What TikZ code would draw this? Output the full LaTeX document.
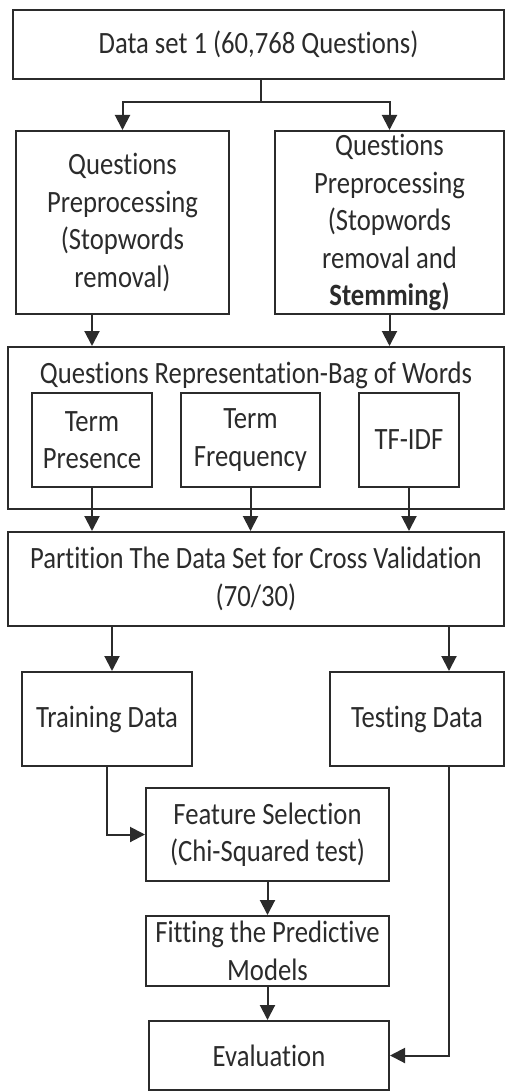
\documentclass[tikz,border=0pt]{standalone}
\usepackage{fontspec}
\setmainfont{Carlito}[FakeStretch=0.86, Ligatures={NoCommon}]
\usetikzlibrary{arrows.meta}
\definecolor{ink}{HTML}{2B2B2B}
\tikzset{
  box/.style={draw=ink, line width=2pt, text=ink, align=center, inner sep=0pt,
    font=\fontsize{31}{37.5}\selectfont},
  arr/.style={draw=ink, line width=2pt, -{Triangle[length=15pt,width=15pt]}},
  ln/.style={draw=ink, line width=2pt}
}
\begin{document}
\begin{tikzpicture}[x=1pt,y=-1pt]
\useasboundingbox (0,0) rectangle (506,1091);
\node[box, minimum width=491pt, minimum height=69pt] (top) at (258.5,44.5) {Data set 1 (60,768 Questions)};
\node[box, minimum width=213pt, minimum height=183pt] (lp) at (122.5,222.5) {Questions\\Preprocessing\\(Stopwords\\removal)};
\node[box, minimum width=229pt, minimum height=183pt] (rp) at (389.5,222.5) {Questions\\Preprocessing\\(Stopwords\\removal and\\\textbf{Stemming)}};
\node[box, minimum width=496pt, minimum height=162pt] (bow) at (256,428) {};
\node[text=ink, font=\fontsize{31}{37.5}\selectfont, inner sep=0pt] (bowt) at (256,375) {Questions Representation-Bag of Words};
\node[box, minimum width=120pt, minimum height=94pt] (tp) at (92,440) {Term\\Presence};
\node[box, minimum width=139pt, minimum height=94pt] (tf) at (250.5,440) {Term\\Frequency};
\node[box, minimum width=100pt, minimum height=94pt] (tfidf) at (409,440) {TF-IDF};
\node[box, minimum width=496pt, minimum height=94pt] (part) at (256,579) {Partition The Data Set for Cross Validation\\(70/30)};
\node[box, minimum width=170pt, minimum height=94pt] (train) at (107,719) {Training Data};
\node[box, minimum width=174pt, minimum height=94pt] (test) at (417,719) {Testing Data};
\node[box, minimum width=243pt, minimum height=93pt] (feat) at (267.5,834.5) {Feature Selection\\(Chi-Squared test)};
\node[box, minimum width=243pt, minimum height=70pt] (fit) at (267.5,951) {Fitting the Predictive\\Models};
\node[box, minimum width=240pt, minimum height=69pt] (eval) at (269,1055.5) {Evaluation};
\coordinate (split) at (261,102);
\draw[ln] (top.south -| split) -- (split);
\draw[arr] (split) -| (lp.north);
\draw[arr] (split) -| (rp.north);
\draw[arr] (lp.south -| tp.north) -- (bow.north -| tp.north);
\draw[arr] (rp.south) -- (bow.north -| rp.south);
\draw[arr] (tp.south) -- (part.north -| tp.south);
\draw[arr] (tf.south) -- (part.north -| tf.south);
\draw[arr] (tfidf.south) -- (part.north -| tfidf.south);
\draw[arr] ([xshift=5pt]train.north |- part.south) -- ([xshift=5pt]train.north);
\draw[arr] ([xshift=32pt]test.north |- part.south) -- ([xshift=32pt]test.north);
\draw[arr] (train.south) |- (feat.west);
\draw[arr] (feat.south) -- (fit.north);
\draw[arr] (fit.south) -- (fit.south |- eval.north);
\draw[arr] ([xshift=32pt]test.south) |- (eval.east);
\end{tikzpicture}
\end{document}
